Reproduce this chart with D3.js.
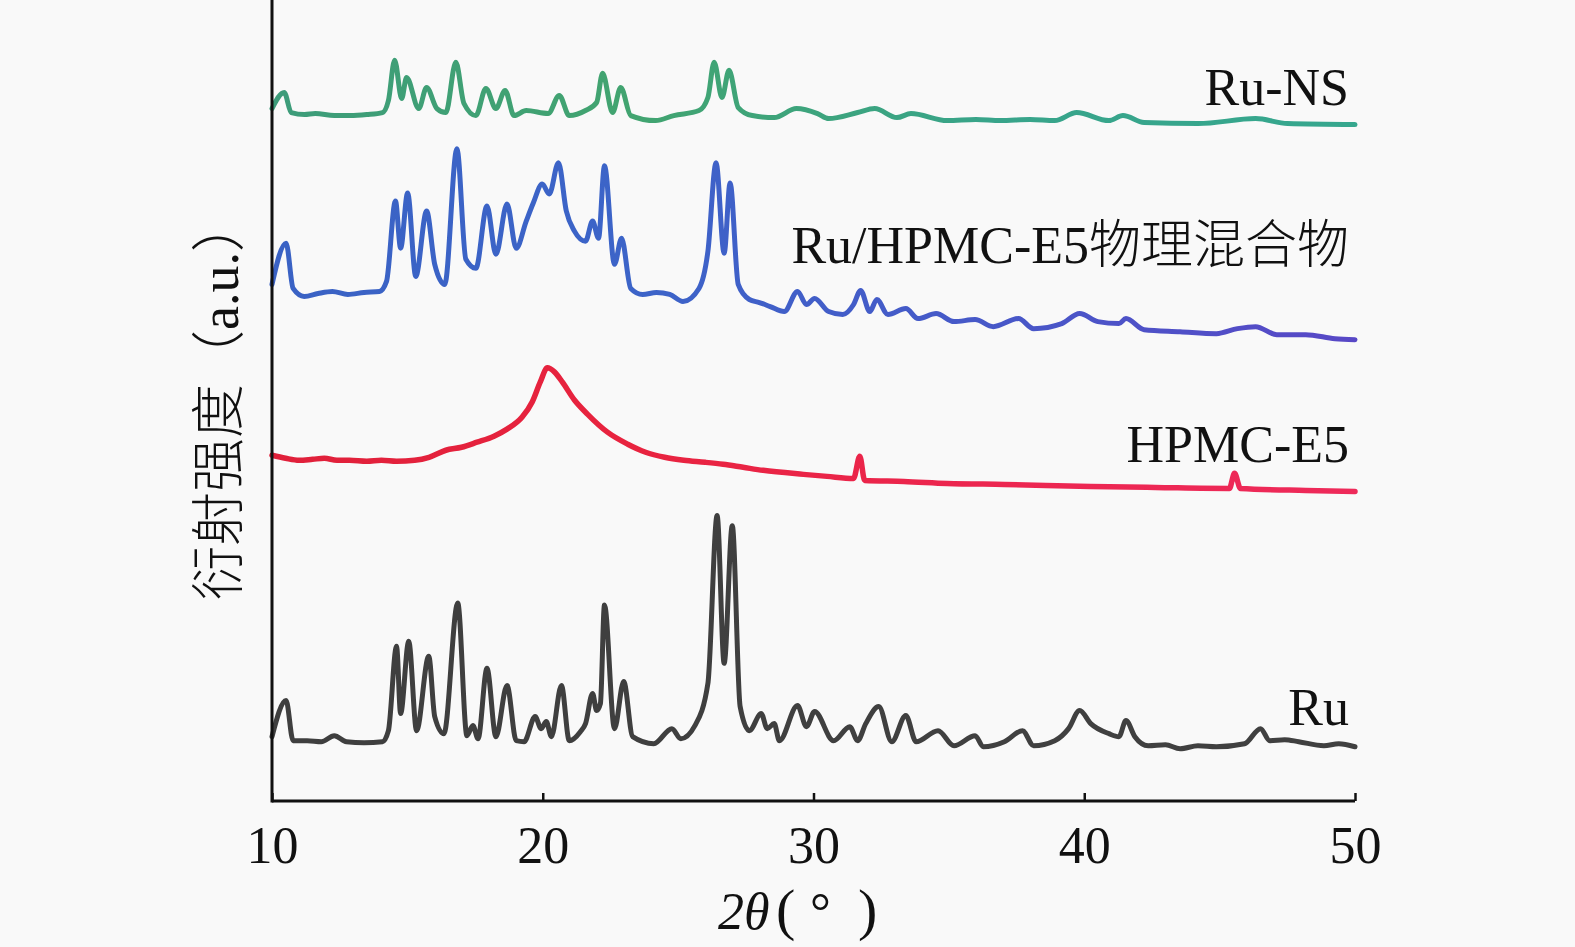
<!DOCTYPE html>
<html>
<head>
<meta charset="utf-8">
<script src="https://cdn.jsdelivr.net/npm/d3@7"></script>
<style>
  html, body { margin: 0; padding: 0; background: #f9f9f9; }
  svg { display: block; }
</style>
</head>
<body>
<div id="chart"></div>
<script>
// XRD patterns, stacked (2θ in degrees, intensity in arbitrary units incl. offset)
const xTicks = [10, 20, 30, 40, 50];

const ruNS = [
  [10.0, 689], [10.45, 705], [10.71, 685], [11.2, 683], [11.6, 684], [12.3, 682], [12.89, 682],
  [13.5, 683], [14.08, 685], [14.3, 697],
  [14.53, 737], [14.79, 699], [14.97, 720], [15.42, 689], [15.71, 710], [16.09, 689], [16.42, 685],
  [16.79, 735], [17.09, 694], [17.53, 682], [17.9, 709], [18.27, 689], [18.61, 707], [18.94, 682],
  [19.39, 687], [20.2, 684], [20.61, 702], [20.98, 682], [21.58, 687], [21.99, 695], [22.21, 724],
  [22.58, 685], [22.88, 710], [23.25, 682], [24.17, 677], [24.84, 682], [25.77, 687], [26.1, 700],
  [26.33, 735], [26.62, 700], [26.88, 727], [27.22, 690], [27.74, 682], [28.55, 680], [29.37, 689],
  [30.15, 684], [30.56, 679], [31.63, 685], [32.26, 689], [33.08, 680], [33.6, 684], [34.94, 677],
  [36.0, 678], [36.9, 677], [38.0, 678], [38.91, 677], [39.72, 685], [40.91, 677], [41.43, 682],
  [42.21, 675], [44.21, 674], [46.33, 679], [47.51, 674], [50.0, 673]
];

const mixture = [
  [10.0, 514], [10.52, 555], [10.78, 510], [11.19, 502], [11.7, 505], [12.23, 507], [12.8, 504],
  [13.4, 506], [13.97, 507], [14.23, 517],
  [14.56, 597], [14.75, 550], [15.01, 605], [15.31, 522], [15.71, 587], [16.01, 534], [16.38, 514],
  [16.83, 649], [17.16, 539], [17.53, 530], [17.94, 592], [18.27, 544], [18.68, 594], [19.02, 550],
  [19.39, 577], [19.65, 595], [19.98, 614], [20.24, 604], [20.58, 635], [20.87, 587], [21.17, 567],
  [21.58, 557], [21.84, 577], [22.06, 560], [22.28, 632], [22.65, 534], [22.91, 560], [23.25, 510],
  [23.69, 504], [24.2, 506], [24.69, 504], [25.18, 497], [25.77, 510], [26.1, 547], [26.4, 635], [26.7, 545],
  [26.92, 615], [27.22, 514], [27.63, 499], [28.0, 496], [28.4, 492], [28.92, 487], [29.41, 507], [29.74, 494],
  [30.04, 500], [30.56, 487], [31.08, 484], [31.48, 494], [31.74, 508], [32.08, 487], [32.34, 499],
  [32.75, 484], [33.41, 490], [33.86, 480], [34.53, 485], [35.19, 477], [35.97, 479], [36.64, 472],
  [37.57, 480], [38.13, 470], [39.17, 475], [39.83, 485], [40.5, 477], [41.28, 475], [41.54, 480],
  [42.21, 469], [43.54, 467], [44.88, 465], [45.66, 470], [46.33, 472], [47.11, 464], [48.18, 464],
  [49.26, 460], [50.0, 459]
];

const hpmc = [
  [10.0, 344], [10.5, 341], [11.0, 339], [11.5, 340], [11.93, 341], [12.4, 339], [12.86, 339],
  [13.5, 338], [14.04, 339], [14.6, 338], [15.27, 339], [15.8, 342], [16.42, 349], [17.0, 352],
  [17.57, 357], [18.2, 363], [18.68, 370], [19.24, 382], [19.61, 397], [19.91, 417], [20.17, 431],
  [20.43, 427], [20.72, 417], [21.17, 399], [21.65, 385], [22.39, 367], [23.14, 355], [23.8, 347],
  [24.5, 342], [25.21, 339], [26.0, 337], [26.66, 335], [27.4, 332], [28.14, 329], [29.63, 325],
  [30.5, 323], [31.48, 321], [31.71, 343], [31.89, 319], [33.34, 318], [34.94, 316], [37.05, 315],
  [40.24, 313], [42.62, 312], [45.36, 311], [45.55, 326], [45.77, 311], [48.18, 309], [50.0, 308]
];

const ru = [
  [10.0, 64], [10.52, 100], [10.78, 60], [11.3, 60], [11.82, 59], [12.3, 65], [12.75, 59], [13.4, 58],
  [14.08, 59],
  [14.3, 70], [14.6, 154], [14.75, 87], [15.05, 159], [15.34, 70], [15.79, 144], [16.01, 84],
  [16.35, 67], [16.86, 197], [17.2, 65], [17.42, 75], [17.61, 62], [17.94, 132], [18.27, 64],
  [18.68, 115], [19.02, 60], [19.31, 59], [19.72, 84], [19.94, 72], [20.13, 79], [20.32, 64],
  [20.69, 115], [20.98, 60], [21.39, 69], [21.58, 77], [21.84, 107], [21.99, 90], [22.13, 97],
  [22.28, 195], [22.65, 72], [22.99, 119], [23.32, 64], [24.1, 57], [24.77, 72], [25.1, 62],
  [25.62, 75], [26.1, 117], [26.44, 284], [26.7, 137], [27.0, 274], [27.29, 94], [27.63, 70],
  [28.07, 87], [28.29, 72], [28.55, 77], [28.74, 60], [29.41, 95], [29.74, 74], [30.04, 89],
  [30.74, 60], [31.34, 74], [31.63, 60], [31.93, 77], [32.41, 94], [32.89, 59], [33.41, 85],
  [33.79, 59], [34.6, 70], [35.19, 55], [35.97, 65], [36.27, 54], [37.05, 59], [37.72, 70],
  [38.13, 55], [38.91, 60], [39.42, 72], [39.83, 90], [40.24, 77], [40.91, 67], [41.28, 64],
  [41.54, 80], [41.87, 64], [42.36, 55], [43.0, 56], [43.54, 52], [44.2, 55], [44.88, 54], [45.92, 57],
  [46.51, 72], [46.85, 60], [47.4, 61], [47.92, 59], [48.85, 55], [49.4, 57], [50.0, 54]
];

const seriesNames = ['Ru-NS', 'Ru/HPMC-E5物理混合物', 'HPMC-E5', 'Ru'];
const seriesData = [ruNS, mixture, hpmc, ru];
const seriesColors = [
  ['#3d9c7a', '#42a470', '#38a48a', '#36a78e'],
  ['#3a62c4', '#3c64c8', '#4758c8', '#5848c6'],
  ['#e0203a', '#e8233f', '#ec2650', '#ee2a5a'],
  ['#3f3f3f', '#3f3f3f', '#404040', '#404040']
];
const labelYs = [105, 263, 462, 725];

(function() {
  const width = 1575;
  const height = 947;
  const left = 272, right = 1355, top = 0, bottom = 801;
  const serif = '"Liberation Serif", "Times New Roman", serif';
  const cjk = '"Noto Sans CJK SC", sans-serif';

  const svg = d3.select('#chart').append('svg')
    .attr('width', width)
    .attr('height', height)
    .style('background', '#f9f9f9');

  const x = d3.scaleLinear().domain([10, 50]).range([left, right]);
  const y = d3.scaleLinear().domain([0, 797]).range([bottom, top]);

  // gradients along x for each trace
  const defs = svg.append('defs');
  seriesColors.forEach((cols, i) => {
    const g = defs.append('linearGradient')
      .attr('id', 'grad' + i)
      .attr('gradientUnits', 'userSpaceOnUse')
      .attr('x1', left).attr('x2', right)
      .attr('y1', 0).attr('y2', 0);
    cols.forEach((c, j) => {
      g.append('stop').attr('offset', j / (cols.length - 1)).attr('stop-color', c);
    });
  });

  const line = d3.line()
    .curve(d3.curveMonotoneX)
    .x(d => x(d[0]))
    .y(d => y(d[1]));

  seriesData.forEach((data, i) => {
    svg.append('path')
      .datum(data)
      .attr('d', line)
      .attr('fill', 'none')
      .attr('stroke', `url(#grad${i})`)
      .attr('stroke-width', i === 2 ? 5.5 : 5)
      .attr('stroke-linejoin', 'round')
      .attr('stroke-linecap', 'round');
  });

  // series labels
  seriesNames.forEach((name, i) => {
    const t = svg.append('text')
      .attr('x', 1349)
      .attr('y', labelYs[i])
      .attr('text-anchor', 'end')
      .attr('font-family', serif)
      .attr('font-size', '52px')
      .attr('fill', '#111');
    const m = name.match(/^([\x00-\x7f]+)(.*)$/);
    t.append('tspan').text(m[1]);
    if (m[2]) t.append('tspan').attr('font-family', cjk).attr('font-weight', 300).text(m[2]);
  });

  // x axis
  const xAxis = d3.axisBottom(x)
    .tickValues(xTicks)
    .tickSize(0)
    .tickPadding(0)
    .tickFormat(d3.format('d'));

  const gx = svg.append('g')
    .attr('transform', `translate(0,${bottom})`)
    .call(xAxis);
  gx.select('.domain').remove();
  gx.selectAll('.tick text')
    .attr('y', 62)
    .attr('dy', 0)
    .attr('font-family', serif)
    .attr('font-size', '52px')
    .attr('fill', '#111');
  gx.selectAll('.tick').append('line')
    .attr('y1', 0).attr('y2', -8)
    .attr('stroke', '#111')
    .attr('stroke-width', 2.5);

  // axis frame lines
  svg.append('line')
    .attr('x1', left).attr('x2', right)
    .attr('y1', bottom).attr('y2', bottom)
    .attr('stroke', '#111').attr('stroke-width', 3);
  svg.append('line')
    .attr('x1', left).attr('x2', left)
    .attr('y1', top).attr('y2', bottom + 1.5)
    .attr('stroke', '#111').attr('stroke-width', 3);

  // x axis title: 2θ ( ° )
  const xt = svg.append('text')
    .attr('y', 929)
    .attr('font-family', serif)
    .attr('font-size', '52px')
    .attr('fill', '#111');
  xt.append('tspan').attr('x', 718).attr('font-style', 'italic').text('2θ');
  xt.append('tspan').attr('x', 776).attr('font-size', '58px').text('(');
  xt.append('tspan').attr('x', 810).text('°');
  xt.append('tspan').attr('x', 858).attr('font-size', '58px').text(')');

  // y axis title
  const yt = svg.append('text')
    .attr('transform', 'translate(238,399) rotate(-90)')
    .attr('text-anchor', 'middle')
    .attr('font-size', '54px')
    .attr('fill', '#111');
  yt.append('tspan').attr('font-family', cjk).attr('font-weight', 300).text('衍射强度（');
  yt.append('tspan').attr('font-family', serif).text('a.u.');
  yt.append('tspan').attr('font-family', cjk).attr('font-weight', 300).text('）');
})();
</script>
</body>
</html>
